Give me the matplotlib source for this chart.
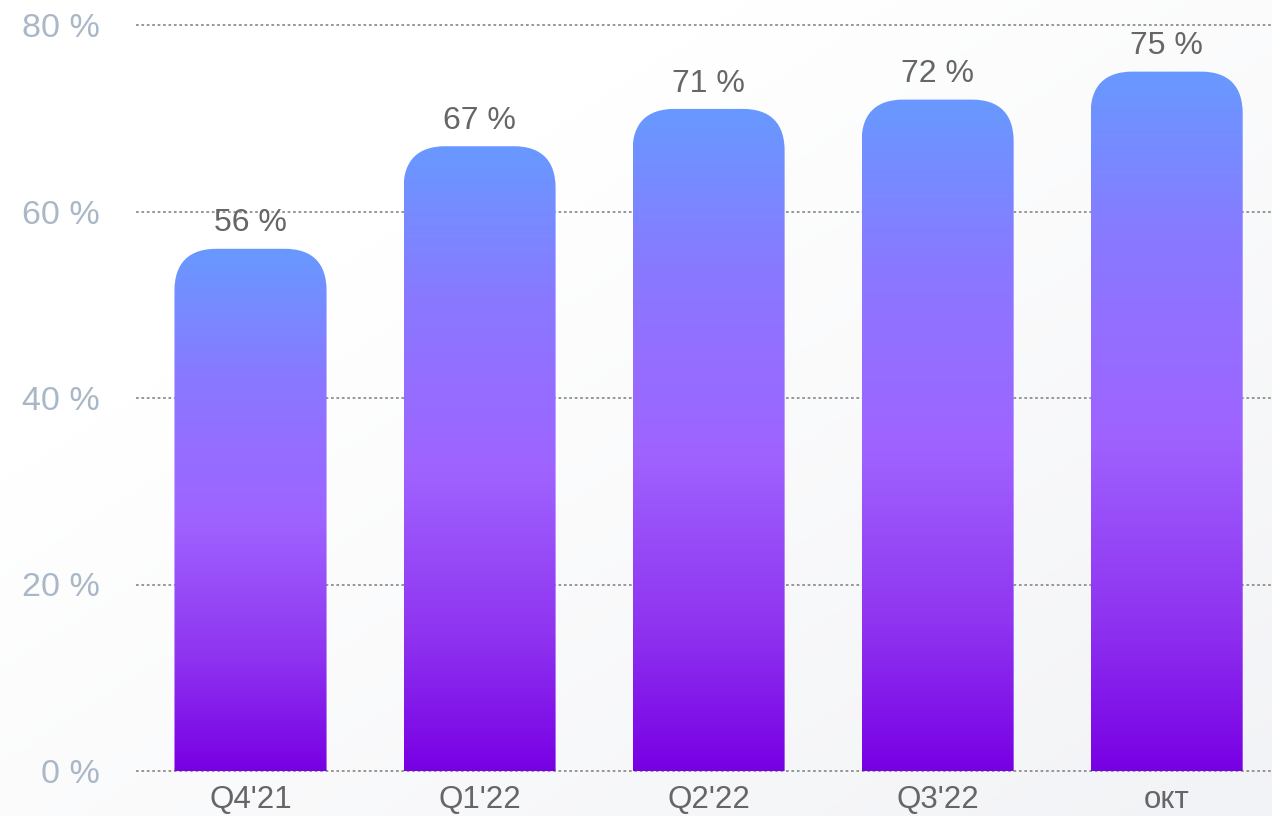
import numpy as np
import matplotlib
matplotlib.use("Agg")
import matplotlib.pyplot as plt
from matplotlib.path import Path
from matplotlib.patches import PathPatch
from matplotlib.colors import LinearSegmentedColormap

# data
categories = ["Q4'21", "Q1'22", "Q2'22", "Q3'22", "окт"]
values = [56, 67, 71, 72, 75]
yticks = [0, 20, 40, 60, 80]

plt.rcParams['font.family'] = ['Liberation Sans', 'DejaVu Sans']

W, H = 1272, 816
fig = plt.figure(figsize=(W / 100, H / 100), dpi=100)

# soft diagonal background
bg = fig.add_axes([0, 0, 1, 1], zorder=-1)
gx, gy = np.meshgrid(np.linspace(0, 1, 200), np.linspace(0, 1, 200))
t = np.clip((gx * 0.6 + gy * 0.6 - 0.35), 0, 1)
bg_cmap = LinearSegmentedColormap.from_list("bg", ["#ffffff", "#f2f3f6"])
bg.imshow(t, cmap=bg_cmap, extent=[0, 1, 0, 1], aspect="auto", origin="upper")
bg.axis("off")

# axes: y=0 sits at pixel row 771, 9.325 px per unit
px_y = 9.325
bottom_px = 775
ax = fig.add_axes([136 / W, (H - bottom_px) / H, 1136 / W, bottom_px / H])
ax.set_facecolor("none")

x_lo, x_hi = -0.5, 4.46
y_lo = -(bottom_px - 771) / px_y
y_hi = 771 / px_y
px_x = 1136 / (x_hi - x_lo)

bar_w = 0.664
rad_px = 42
rx = rad_px / px_x
ry = rad_px / px_y
k = 0.66

grad = LinearSegmentedColormap.from_list(
    "bar", [(0.0, "#7800e4"), (0.22, "#8f34f0"), (0.48, "#9f63ff"),
            (0.75, "#8a78ff"), (1.0, "#6899ff")])
col = np.linspace(0, 1, 256).reshape(-1, 1)

for i, v in enumerate(values):
    x0, x1 = i - bar_w / 2, i + bar_w / 2
    verts = [(x0, 0), (x0, v - ry),
             (x0, v - ry + k * ry), (x0 + rx - k * rx, v), (x0 + rx, v),
             (x1 - rx, v),
             (x1 - rx + k * rx, v), (x1, v - ry + k * ry), (x1, v - ry),
             (x1, 0), (x0, 0)]
    codes = [Path.MOVETO, Path.LINETO,
             Path.CURVE4, Path.CURVE4, Path.CURVE4,
             Path.LINETO,
             Path.CURVE4, Path.CURVE4, Path.CURVE4,
             Path.LINETO, Path.CLOSEPOLY]
    patch = PathPatch(Path(verts, codes), facecolor="none", edgecolor="none")
    ax.add_patch(patch)
    im = ax.imshow(col, cmap=grad, origin="lower", extent=[x0, x1, 0, v],
                   aspect="auto", zorder=2, interpolation="bilinear")
    im.set_clip_path(patch)
    ax.annotate(f"{v} %", (i, v), xytext=(0, 7.5), textcoords="offset points",
                ha="center", va="bottom", fontsize=23, color="#666666",
                zorder=3)

ax.set_xlim(x_lo, x_hi)
ax.set_ylim(y_lo, y_hi)

ax.set_yticks(yticks)
ax.set_yticklabels([f"{t} %" for t in yticks])
ax.set_xticks(range(len(categories)))
ax.set_xticklabels(categories)
ax.tick_params(axis="y", length=0, pad=26, labelsize=24.5, labelcolor="#a9b7c7")
ax.tick_params(axis="x", length=0, pad=7, labelsize=22.5, labelcolor="#666666")

ax.grid(axis="y", linestyle=(0, (1.5, 1.5)), color="#8f8f8f", linewidth=1.3,
        zorder=1)
ax.set_axisbelow(True)
for s in ax.spines.values():
    s.set_visible(False)

fig.savefig("out.png", dpi=100)
